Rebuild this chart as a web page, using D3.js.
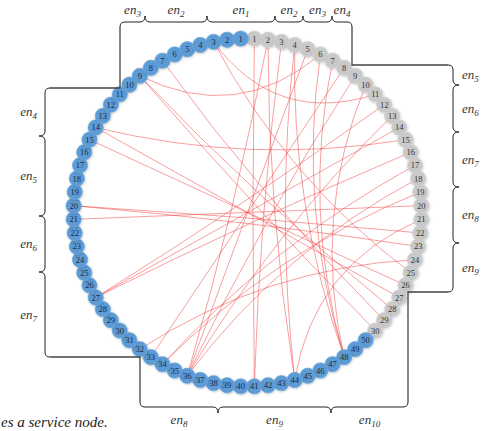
<!DOCTYPE html>
<html>
<head>
<meta charset="utf-8">
<script src="https://cdn.jsdelivr.net/npm/d3@7/dist/d3.min.js"></script>
<style>
  body { margin: 0; background: #fff; }
  svg { display: block; }
</style>
</head>
<body>
<div id="chart"></div>
<script>
// node labels (gray run clockwise from the top, blue run anticlockwise)
const grayLabels = [1, 2, 3, 4, 5, 6, 7, 8, 9, 10, 11, 12, 13, 14, 15, 16, 17, 18, 19, 20,
  21, 22, 23, 24, 25, 26, 27, 28, 29, 30];
const blueLabels = [1, 2, 3, 4, 5, 6, 7, 8, 9, 10, 11, 12, 13, 14, 15, 16, 17, 18, 19, 20,
  21, 22, 23, 24, 25, 26, 27, 28, 29, 30, 31, 32, 33, 34, 35, 36, 37, 38, 39, 40,
  41, 42, 43, 44, 45, 46, 47, 48, 49, 50];

// links: blue node -> gray node
const linkBlue = [3, 3, 7, 9, 9, 9, 14, 14, 15, 20, 20, 21, 27, 27, 27, 32, 33, 34, 34,
  36, 36, 36, 36, 36, 41, 41, 44, 44, 44, 48, 48, 48, 48];
const linkGray = [11, 25, 29, 6, 28, 30, 15, 27, 26, 22, 23, 20, 12, 14, 16, 24, 8, 17, 19,
  2, 5, 9, 13, 18, 1, 3, 4, 21, 2, 6, 7, 10, 4];

// group labels around the frame
const topGroups = ["3", "2", "1", "2", "3", "4"];
const rightGroups = ["5", "6", "7", "8", "9"];
const bottomGroups = ["8", "9", "10"];
const leftGroups = ["4", "5", "6", "7"];

const caption = "es a service node.";

// layout
const width = 488, height = 431;
const cx = 247.5, cy = 212.5, R = 174, nodeR = 7.7;
const topBreaks = [120, 145, 207, 275, 303, 332, 352];
const rightBreaks = [65, 85, 132, 187, 243, 292];
const bottomBreaks = [140, 218, 331, 408];
const leftBreaks = [88, 136, 216, 272, 357];
const serif = "'Liberation Serif', 'Times New Roman', serif";

const svg = d3.select("#chart").append("svg")
  .attr("width", width)
  .attr("height", height);

const defs = svg.append("defs");
const f = defs.append("filter").attr("id", "shadow")
  .attr("x", "-40%").attr("y", "-40%").attr("width", "180%").attr("height", "180%");
f.append("feDropShadow").attr("dx", 0.6).attr("dy", 0.8)
  .attr("stdDeviation", 0.9).attr("flood-color", "#000").attr("flood-opacity", 0.22);

// angle scale over all 80 nodes
const ids = grayLabels.map(d => "g" + d).concat(blueLabels.slice().reverse().map(d => "b" + d));
const angle = d3.scaleBand().domain(ids).range([0, 2 * Math.PI]).padding(0);
const pos = id => {
  const a = angle(id) + angle.bandwidth() / 2;
  return [cx + R * Math.sin(a), cy - R * Math.cos(a)];
};

// links, bowed a little toward the centre
const bow = 0.4;
const links = linkBlue.map((b, i) => ({source: "b" + b, target: "g" + linkGray[i]}));
svg.append("g")
  .selectAll("path")
  .data(links)
  .enter().append("path")
  .attr("d", d => {
    const p0 = pos(d.source), p1 = pos(d.target);
    const mx = (p0[0] + p1[0]) / 2, my = (p0[1] + p1[1]) / 2;
    const c = [mx + bow * (cx - mx), my + bow * (cy - my)];
    const p = d3.path();
    p.moveTo(p0[0], p0[1]);
    p.quadraticCurveTo(c[0], c[1], p1[0], p1[1]);
    return p.toString();
  })
  .attr("fill", "none")
  .attr("stroke", "#f03c3c")
  .attr("stroke-opacity", 0.7)
  .attr("stroke-width", 0.7);

// nodes
const nodes = svg.append("g")
  .selectAll("g")
  .data(ids)
  .enter().append("g")
  .attr("transform", d => "translate(" + pos(d) + ")");

nodes.append("circle")
  .attr("r", nodeR)
  .attr("fill", d => d[0] === "b" ? "#5b9bd5" : "#c9c9c9")
  .attr("stroke", d => d[0] === "b" ? "#6fa9dc" : "#d4d4d4")
  .attr("stroke-width", 0.6)
  .attr("filter", "url(#shadow)");

nodes.append("text")
  .attr("text-anchor", "middle")
  .attr("dy", "0.35em")
  .attr("font-family", serif)
  .attr("font-size", 8.5)
  .attr("fill", d => d[0] === "b" ? "#1c2a3c" : "#333")
  .text(d => d.slice(1));

// braces
function bracePath(breaks, s, map) {
  const r = 5, h = 6, p = d3.path();
  const n = breaks.length - 1;
  let a = map(breaks[0], -s * r), c, e;
  p.moveTo(a[0], a[1]);
  c = map(breaks[0], 0); e = map(breaks[0] + r, 0);
  p.quadraticCurveTo(c[0], c[1], e[0], e[1]);
  for (let i = 1; i < n; i++) {
    const t = breaks[i];
    e = map(t - r, 0); p.lineTo(e[0], e[1]);
    c = map(t, 0); e = map(t, s * h);
    p.quadraticCurveTo(c[0], c[1], e[0], e[1]);
    e = map(t + r, 0);
    p.quadraticCurveTo(c[0], c[1], e[0], e[1]);
  }
  const last = breaks[n];
  e = map(last - r, 0); p.lineTo(e[0], e[1]);
  c = map(last, 0); e = map(last, -s * r);
  p.quadraticCurveTo(c[0], c[1], e[0], e[1]);
  return p.toString();
}

const sides = [
  {breaks: topBreaks, groups: topGroups, s: -1, map: (u, v) => [u, 22 + v],
    label: u => ({x: u, y: 14, anchor: "middle"})},
  {breaks: rightBreaks, groups: rightGroups, s: 1, map: (u, v) => [453 + v, u],
    label: u => ({x: 462, y: u + 4, anchor: "start"})},
  {breaks: bottomBreaks, groups: bottomGroups, s: 1, map: (u, v) => [u, 407 + v],
    label: u => ({x: u, y: 424, anchor: "middle"})},
  {breaks: leftBreaks, groups: leftGroups, s: -1, map: (u, v) => [45 + v, u],
    label: u => ({x: 37, y: u + 4, anchor: "end"})}
];

const frame = svg.append("g");
sides.forEach(sd => {
  frame.append("path")
    .attr("d", bracePath(sd.breaks, sd.s, sd.map))
    .attr("fill", "none")
    .attr("stroke", "#222")
    .attr("stroke-width", 1);

  sd.groups.forEach((g, i) => {
    const L = sd.label((sd.breaks[i] + sd.breaks[i + 1]) / 2);
    const t = frame.append("text")
      .attr("x", L.x).attr("y", L.y)
      .attr("text-anchor", L.anchor)
      .attr("font-family", serif)
      .attr("font-style", "italic")
      .attr("font-size", 13)
      .attr("fill", "#333");
    t.append("tspan").text("en");
    t.append("tspan").attr("font-size", 9).attr("dy", 3).text(g);
  });
});

// connectors between braces
const connectors = [
  [[120, 27], [120, 88], [50, 88]],
  [[352, 27], [352, 65], [448, 65]],
  [[448, 292], [408, 292], [408, 402]],
  [[50, 357], [140, 357], [140, 402]]
];
frame.selectAll("path.conn")
  .data(connectors)
  .enter().append("path")
  .attr("class", "conn")
  .attr("d", d3.line())
  .attr("fill", "none")
  .attr("stroke", "#444")
  .attr("stroke-width", 1.3);

svg.append("text")
  .attr("x", 1).attr("y", 427)
  .attr("font-family", serif)
  .attr("font-style", "italic")
  .attr("font-size", 15)
  .attr("fill", "#222")
  .text(caption);
</script>
</body>
</html>
